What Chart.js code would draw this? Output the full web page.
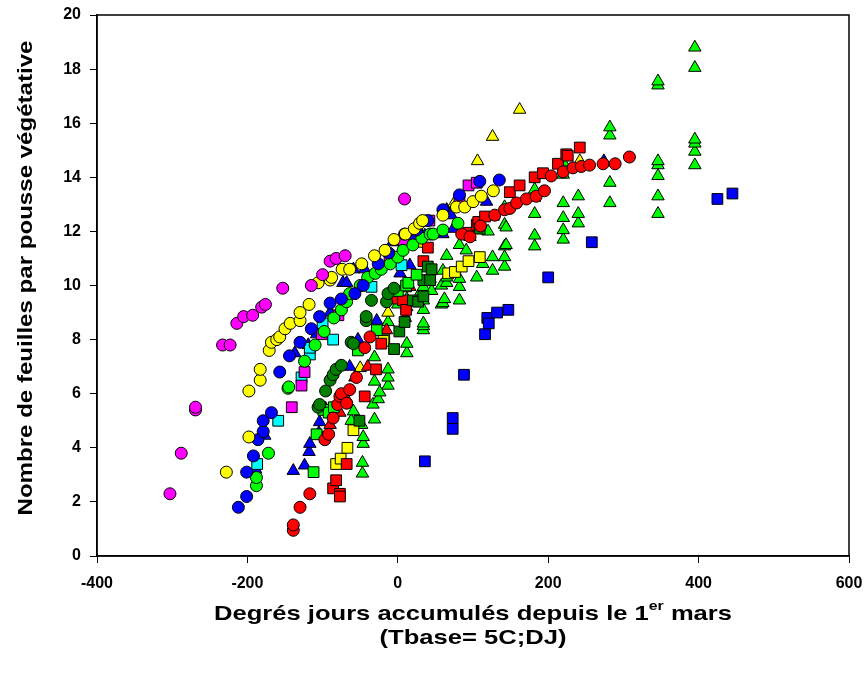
<!DOCTYPE html>
<html lang="fr">
<head>
<meta charset="UTF-8">
<title>Nombre de feuilles par pousse végétative</title>
<script src="https://cdn.jsdelivr.net/npm/chart.js"></script>
<style>
    html, body { margin: 0; padding: 0; background: #fff; }
    #wrap { width: 868px; height: 678px; }
</style>
</head>
<body>
<div id="wrap"><canvas id="chart" width="868" height="678"></canvas></div>
<script>
// valeurs : [degrés jours, nombre de feuilles]
const magentaCircles = [[-303,2.3],[-288,3.8],[-269,5.4],[-269,5.5],[-233,7.8],[-223,7.8],[-214,8.6],[-205,8.85],[-193,8.9],[-181,9.2],[-176,9.3],[-153,9.9],[-115,10.0],[-100,10.4],[-90,10.9],[-82,11.0],[-70,11.1],[9,13.2]];
const yellowCircles = [[-228,3.1],[-198,4.4],[-198,6.1],[-183,6.5],[-183,6.9],[-171,7.6],[-168,7.9],[-161,8.0],[-157,8.1],[-150,8.4],[-143,8.6],[-130,8.7],[-130,9.0],[-118,9.3],[-106,10.1],[-90,10.2],[-88,10.3],[-74,10.6],[-64,10.6],[-48,10.8],[-31,11.1],[-17,11.3],[-5,11.7],[10,11.9],[22,12.1],[29,12.3],[33,12.4],[60,12.6],[78,12.9],[89,12.9],[100,13.1],[111,13.3],[127,13.5]];
const blueCircles = [[-212,1.8],[-201,2.2],[-201,3.1],[-192,3.7],[-186,4.3],[-179,4.6],[-179,5.0],[-168,5.3],[-157,6.8],[-144,7.4],[-130,7.9],[-115,8.4],[-104,8.85],[-90,9.35],[-75,9.5],[-57,9.7],[-46,10.0],[-26,10.8],[-12,11.2],[9,11.9],[25,12.05],[40,12.4],[60,12.8],[82,13.35],[109,13.85],[135,13.9]];
const limeCircles = [[-188,2.6],[-188,2.9],[-172,3.8],[-146,6.2],[-145,6.25],[-124,7.2],[-110,7.8],[-98,8.3],[-85,8.8],[-75,9.1],[-68,9.4],[-64,9.7],[-50,10.0],[-40,10.3],[-30,10.45],[-22,10.6],[-10,10.8],[0,11.05],[7,11.3],[20,11.5],[32,11.75],[43,11.9],[47,11.9],[60,12.05],[80,12.3]];
const darkGreenCircles = [[-106,5.5],[-104,5.6],[-96,6.1],[-90,6.5],[-86,6.7],[-82,6.9],[-75,7.05],[-62,7.9],[-59,7.85],[-42,8.7],[-42,8.85],[-35,9.45],[-15,9.4],[-13,9.7],[-5,9.9]];
const redCircles = [[-139,0.95],[-139,1.15],[-130,1.8],[-117,2.3],[-97,4.3],[-92,4.5],[-86,5.1],[-80,5.6],[-77,5.9],[-75,6.0],[-68,5.65],[-64,6.15],[-55,6.6],[-44,7.7],[-37,8.1],[85,11.9],[96,11.8],[110,12.2],[129,12.6],[142,12.8],[149,12.85],[158,13.05],[171,13.2],[184,13.3],[195,13.5],[204,14.05],[220,14.2],[233,14.35],[244,14.4],[255,14.45],[273,14.5],[289,14.5],[308,14.75]];
const magentaSquares = [[-141,5.5],[-128,6.3],[-124,6.8],[-101,8.2],[-79,8.9],[-11,11.1],[8,11.6],[42,12.4],[82,13.2],[94,13.7],[105,13.8]];
const cyanSquares = [[-187,3.4],[-159,5.0],[-128,6.6],[-117,7.45],[-117,7.7],[-100,8.6],[-86,8.0],[-35,9.95],[5,10.75]];
const limeSquares = [[-112,3.1],[-108,4.5],[-99,5.4],[-92,5.3],[-85,5.5],[-53,7.6],[-28,8.35],[0,9.8],[11,10.0],[14,10.1],[25,10.4]];
const darkGreenSquares = [[-51,5.0],[-5,7.65],[2,8.3],[9,8.65],[20,9.45],[27,9.4],[34,9.6],[34,10.2],[40,10.7],[43,10.2],[45,10.6],[109,12.1]];
const redSquares = [[-86,2.5],[-82,2.8],[-77,2.3],[-77,2.2],[-68,3.4],[-44,5.9],[-29,6.9],[-22,7.85],[7,9.45],[11,9.1],[34,10.9],[40,11.4],[94,11.95],[105,12.25],[107,12.35],[116,12.55],[149,13.45],[162,13.7],[182,14.0],[193,14.15],[213,14.5],[224,14.85],[226,14.8],[242,15.1]];
const yellowSquares = [[-82,3.4],[-76,3.6],[-67,4.0],[-59,4.65],[-18,8.0],[-19,7.95],[67,10.45],[76,10.5],[85,10.7],[94,10.9],[109,11.05]];
const blueSquares = [[36,3.5],[73,4.7],[73,5.1],[88,6.7],[116,8.2],[119,8.8],[121,8.6],[132,9.0],[147,9.1],[200,10.3],[258,11.6],[425,13.2],[445,13.4]];
const blueTriangles = [[-189,3.2],[-177,4.45],[-139,3.15],[-124,3.35],[-118,3.85],[-117,4.15],[-105,4.55],[-104,4.95],[-97,5.4],[-96,5.45],[-137,7.5],[-119,7.8],[-108,8.2],[-90,9.0],[-73,10.1],[-68,10.1],[-64,7.0],[-59,10.6],[-53,8.0],[-44,10.6],[-28,8.7],[-7,11.6],[3,10.45],[16,10.75],[20,11.8],[36,11.85],[60,11.9],[65,12.8],[71,12.6],[74,12.1],[118,13.1],[274,14.6]];
const yellowTriangles = [[-50,6.95],[-13,9.0],[30,11.55],[74,13.0],[106,14.6],[126,15.5],[162,16.5],[242,14.6]];
const redTriangles = [[-90,4.85],[-77,5.3],[-70,5.75],[-68,5.8],[-57,6.6],[-40,7.0],[-15,8.35],[-4,9.45],[10,8.8],[16,9.95]];
const limeTriangles = [[-62,5.0],[-59,5.35],[-47,3.05],[-47,3.45],[-46,4.15],[-46,4.4],[-48,4.85],[-31,5.05],[-33,5.6],[-26,5.8],[-24,6.05],[-31,6.45],[-31,7.35],[-13,6.3],[-13,6.6],[-13,6.9],[-13,8.65],[0,9.3],[10,9.9],[12,7.5],[12,7.85],[12,9.2],[12,9.5],[27,9.6],[34,8.35],[34,8.5],[34,8.6],[34,9.1],[34,9.45],[34,9.95],[43,10.25],[45,9.8],[58,9.3],[58,10.0],[60,9.35],[62,9.5],[60,10.55],[65,10.1],[65,10.3],[65,11.1],[82,9.45],[82,9.95],[82,10.25],[82,11.5],[91,11.3],[96,11.8],[105,10.3],[113,10.8],[120,12.0],[126,10.55],[126,11.05],[127,12.55],[142,10.7],[142,11.05],[142,11.45],[142,12.25],[142,12.9],[144,12.15],[144,11.5],[182,11.45],[182,11.85],[182,12.65],[182,13.25],[182,13.55],[220,11.7],[220,12.05],[220,12.5],[220,13.05],[220,14.1],[220,14.55],[240,12.3],[240,12.65],[240,13.3],[282,13.05],[282,13.8],[282,15.55],[282,15.85],[346,12.65],[346,13.3],[346,14.05],[346,14.45],[346,14.6],[346,17.4],[346,17.55],[395,14.45],[395,14.95],[395,15.25],[395,15.4],[395,18.05],[395,18.8]];

const xTicks = [-400, -200, 0, 200, 400, 600];
const yTicks = [0, 2, 4, 6, 8, 10, 12, 14, 16, 18, 20];

const MAGENTA = '#FF00FF', YELLOW = '#FFFF00', BLUE = '#0000FF', LIME = '#00FF00',
      DKGREEN = '#007F00', RED = '#FF0000', CYAN = '#00FFFF';

function series(points, color, shape) {
    let r = 6;
    if (shape === 'rect') r = 7.6;
    if (shape === 'triangle') r = 7.2;
    return {
        data: points.map(p => ({x: p[0], y: p[1]})),
        backgroundColor: color,
        borderColor: '#000',
        borderWidth: 1,
        pointStyle: shape,
        pointRadius: r,
        pointHoverRadius: r,
        clip: false
    };
}

const datasets = [
    series(magentaCircles, MAGENTA, 'circle'),
    series(yellowCircles, YELLOW, 'circle'),
    series(blueCircles, BLUE, 'circle'),
    series(limeCircles, LIME, 'circle'),
    series(darkGreenCircles, DKGREEN, 'circle'),
    series(redCircles, RED, 'circle'),
    series(magentaSquares, MAGENTA, 'rect'),
    series(cyanSquares, CYAN, 'rect'),
    series(limeSquares, LIME, 'rect'),
    series(darkGreenSquares, DKGREEN, 'rect'),
    series(redSquares, RED, 'rect'),
    series(yellowSquares, YELLOW, 'rect'),
    series(blueSquares, BLUE, 'rect'),
    series(redTriangles, RED, 'triangle'),
    series(blueTriangles, BLUE, 'triangle'),
    series(yellowTriangles, YELLOW, 'triangle'),
    series(limeTriangles, LIME, 'triangle')
];

// cadre + titres des axes (avec l'exposant "er"), texte un peu étiré en largeur
const frameAndTitles = {
    id: 'frameAndTitles',
    afterDraw(chart) {
        const ctx = chart.ctx;
        const a = chart.chartArea;
        ctx.save();
        ctx.strokeStyle = '#000';
        ctx.lineWidth = 1.5;
        ctx.strokeRect(a.left, a.top, a.right - a.left, a.bottom - a.top);

        ctx.fillStyle = '#000';
        ctx.textBaseline = 'alphabetic';
        const big = 'bold 21px "Liberation Sans", Arial, sans-serif';
        const small = 'bold 13px "Liberation Sans", Arial, sans-serif';
        const p1 = 'Degrés jours accumulés depuis le 1';
        const p2 = 'er';
        const p3 = ' mars';
        ctx.font = big;
        const w1 = ctx.measureText(p1).width, w3 = ctx.measureText(p3).width;
        ctx.font = small;
        const w2 = ctx.measureText(p2).width;
        const cx = (a.left + a.right) / 2;
        const sx = 518 / (w1 + w2 + w3);

        ctx.save();
        ctx.translate(cx, 0);
        ctx.scale(sx, 1);
        let x = -(w1 + w2 + w3) / 2;
        ctx.textAlign = 'left';
        ctx.font = big; ctx.fillText(p1, x, 620); x += w1;
        ctx.font = small; ctx.fillText(p2, x, 610); x += w2;
        ctx.font = big; ctx.fillText(p3, x, 620);
        ctx.textAlign = 'center';
        ctx.fillText('(Tbase= 5C;DJ)', 0, 644);
        ctx.restore();

        const yt = 'Nombre de feuilles par pousse végétative';
        ctx.font = big;
        const wy = ctx.measureText(yt).width;
        ctx.translate(32, 278);
        ctx.rotate(-Math.PI / 2);
        ctx.scale(475 / wy, 1);
        ctx.textAlign = 'center';
        ctx.fillText(yt, 0, 0);
        ctx.restore();
    }
};

const tickFont = {family: '"Liberation Sans", Arial, sans-serif', size: 16, weight: 'bold'};

new Chart(document.getElementById('chart'), {
    type: 'scatter',
    data: {datasets: datasets},
    options: {
        responsive: false,
        animation: false,
        layout: {padding: {top: 15, right: 19, left: 0, bottom: 0}},
        plugins: {legend: {display: false}, tooltip: {enabled: false}},
        scales: {
            x: {
                type: 'linear',
                min: -400, max: 600,
                afterBuildTicks: s => { s.ticks = xTicks.map(v => ({value: v})); },
                afterFit: s => { s.height = 122; s.paddingLeft = 0; s.paddingRight = 0; },
                ticks: {color: '#000', font: tickFont, padding: 11},
                grid: {display: true, drawOnChartArea: false, drawTicks: true, tickLength: 7, color: '#000'},
                border: {display: true, color: '#000', width: 1.5}
            },
            y: {
                type: 'linear',
                min: 0, max: 20,
                afterBuildTicks: s => { s.ticks = yTicks.map(v => ({value: v})); },
                afterFit: s => { s.width = 97; s.paddingTop = 0; s.paddingBottom = 0; },
                ticks: {color: '#000', font: tickFont, padding: 9},
                grid: {display: true, drawOnChartArea: false, drawTicks: true, tickLength: 7, color: '#000'},
                border: {display: true, color: '#000', width: 1.5}
            }
        }
    },
    plugins: [frameAndTitles]
});
</script>
</body>
</html>
